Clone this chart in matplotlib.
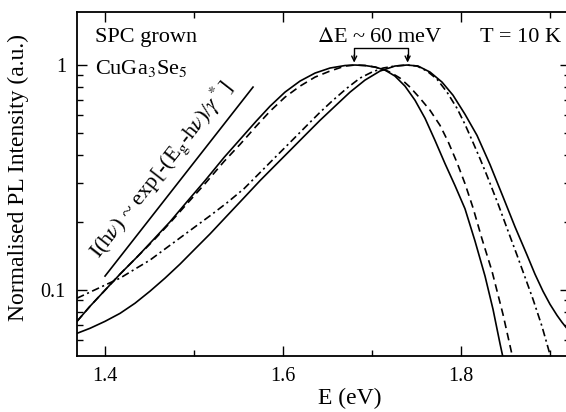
import matplotlib
matplotlib.use("Agg")
import matplotlib.pyplot as plt
from matplotlib.ticker import LogLocator, NullFormatter, MultipleLocator

plt.rcParams['font.family'] = ['Liberation Serif', 'DejaVu Serif']
plt.rcParams['mathtext.fontset'] = 'stix'
plt.rcParams['lines.scale_dashes'] = False

# PL spectra (energy in eV, normalised intensity)
e_solid1 = [1.3685, 1.3831, 1.4000, 1.4169, 1.4360, 1.4551, 1.4730, 1.4921, 1.5124,
            1.5337, 1.5517, 1.5697, 1.5854, 1.6022, 1.6191, 1.6360, 1.6528, 1.6697,
            1.6809, 1.6921, 1.7034, 1.7146, 1.7258, 1.7371, 1.7483, 1.7596, 1.7708,
            1.7820, 1.7933, 1.8045, 1.8157, 1.8270, 1.8360, 1.8438, 1.8472]
i_solid1 = [0.0727, 0.0848, 0.1000, 0.1179, 0.1404, 0.1689, 0.2012, 0.2471, 0.3066,
            0.3884, 0.4673, 0.5623, 0.6561, 0.7578, 0.8486, 0.9210, 0.9696, 0.9950,
            1.0000, 0.9950, 0.9796, 0.9499, 0.8931, 0.8058, 0.6978, 0.5799, 0.4625,
            0.3652, 0.2912, 0.2299, 0.1655, 0.1155, 0.0822, 0.0580, 0.0502]

e_dash = [1.3685, 1.3831, 1.4000, 1.4169, 1.4360, 1.4551, 1.4730, 1.4921, 1.5124,
          1.5337, 1.5517, 1.5697, 1.5854, 1.6022, 1.6191, 1.6360, 1.6528, 1.6697,
          1.6809, 1.6921, 1.7034, 1.7146, 1.7202, 1.7315, 1.7427, 1.7539, 1.7652,
          1.7764, 1.7854, 1.7955, 1.8045, 1.8135, 1.8236, 1.8348, 1.8472, 1.8573,
          1.8584]
i_dash = [0.0727, 0.0848, 0.1000, 0.1179, 0.1404, 0.1672, 0.1991, 0.2420, 0.2973,
          0.3728, 0.4440, 0.5340, 0.6232, 0.7197, 0.8058, 0.8839, 0.9402, 0.9898,
          1.0000, 0.9950, 0.9796, 0.9499, 0.9306, 0.8748, 0.7978, 0.7124, 0.6295,
          0.5398, 0.4579, 0.3690, 0.2973, 0.2323, 0.1689, 0.1216, 0.0781, 0.0518,
          0.0502]

e_dashdot = [1.3685, 1.3831, 1.4000, 1.4169, 1.4337, 1.4506, 1.4674, 1.4843, 1.5011,
             1.5180, 1.5371, 1.5562, 1.5742, 1.5910, 1.6079, 1.6247, 1.6416, 1.6562,
             1.6719, 1.6865, 1.7000, 1.7124, 1.7258, 1.7393, 1.7506, 1.7618, 1.7730,
             1.7843, 1.7955, 1.8045, 1.8135, 1.8213, 1.8292, 1.8416, 1.8528, 1.8629,
             1.8719, 1.8809, 1.8910, 1.9000, 1.9011]
i_dashdot = [0.0921, 0.0980, 0.1053, 0.1131, 0.1241, 0.1361, 0.1524, 0.1707, 0.1911,
             0.2140, 0.2445, 0.2824, 0.3329, 0.3884, 0.4530, 0.5286, 0.6167, 0.6978,
             0.7896, 0.8748, 0.9306, 0.9696, 0.9898, 1.0000, 0.9898, 0.9402, 0.8660,
             0.7578, 0.6427, 0.5451, 0.4530, 0.3844, 0.3228, 0.2420, 0.1834, 0.1433,
             0.1143, 0.0912, 0.0691, 0.0518, 0.0502]

e_solid2 = [1.3685, 1.3831, 1.4000, 1.4169, 1.4337, 1.4506, 1.4674, 1.4843, 1.5011,
            1.5180, 1.5371, 1.5562, 1.5742, 1.5910, 1.6079, 1.6247, 1.6416, 1.6584,
            1.6753, 1.6921, 1.7090, 1.7258, 1.7393, 1.7517, 1.7652, 1.7787, 1.7910,
            1.8045, 1.8180, 1.8326, 1.8472, 1.8607, 1.8742, 1.8831, 1.8921, 1.9000,
            1.9079, 1.9135, 1.9180]
i_solid2 = [0.0643, 0.0677, 0.0727, 0.0789, 0.0875, 0.0990, 0.1131, 0.1306, 0.1524,
            0.1778, 0.2140, 0.2574, 0.3066, 0.3577, 0.4174, 0.4870, 0.5681, 0.6561,
            0.7578, 0.8570, 0.9402, 0.9898, 1.0000, 0.9898, 0.9306, 0.8396, 0.7346,
            0.6043, 0.4870, 0.3614, 0.2600, 0.1911, 0.1433, 0.1179, 0.0990, 0.0866,
            0.0773, 0.0720, 0.0684]

# exponential tail guide line
e_fit = [1.40, 1.5663]
i_fit = [0.1155, 0.798]

# peak positions marked by the bracket
e_peaks = [1.680, 1.740]
bracket_top = 1.19
arrow_tip = 1.025

fig = plt.figure(figsize=(5.66, 4.12), dpi=100)
ax = fig.add_axes([77 / 566, 56 / 412, 493 / 566, 344 / 412])

lw = 1.2
ax.plot(e_solid1, i_solid1, color='black', lw=lw)
ax.plot(e_dash, i_dash, color='black', lw=lw, dashes=(5.5, 3.5))
ax.plot(e_dashdot, i_dashdot, color='black', lw=lw, dashes=(5.5, 2.5, 1.5, 2.5))
ax.plot(e_solid2, i_solid2, color='black', lw=lw)
ax.plot(e_fit, i_fit, color='black', lw=lw)

# bracket with arrows pointing at both maxima
ax.plot([e_peaks[0], e_peaks[0], e_peaks[1], e_peaks[1]],
        [arrow_tip * 1.06, bracket_top, bracket_top, arrow_tip * 1.06],
        color='black', lw=1.0)
for ep in e_peaks:
    ax.annotate('', xy=(ep, arrow_tip), xytext=(ep, arrow_tip * 1.08),
                arrowprops=dict(arrowstyle='->', lw=1.0, color='black',
                                mutation_scale=9, shrinkA=0, shrinkB=0))

ax.set_yscale('log')
ax.set_xlim(1.3685, 1.9225)
ax.set_ylim(0.051, 1.72)

ax.xaxis.set_minor_locator(MultipleLocator(0.1))
ax.set_xticks([1.4, 1.6, 1.8])
ax.set_xticklabels(['1.4', '1.6', '1.8'])
ax.set_yticks([0.1, 1])
ax.set_yticklabels(['0.1', '1'])
ax.yaxis.set_minor_locator(LogLocator(base=10, subs=range(2, 10)))
ax.yaxis.set_minor_formatter(NullFormatter())

ax.tick_params(which='both', direction='in', top=True, right=True, width=1.0)
ax.tick_params(which='major', length=7, labelsize=14.5, pad=8)
ax.tick_params(which='minor', length=4.5)
for sp in ax.spines.values():
    sp.set_linewidth(1.3)

ax.set_xlabel('E (eV)', fontsize=17)
ax.set_ylabel('Normalised PL Intensity (a.u.)', fontsize=17)
ax.xaxis.set_label_coords(0.554, -0.093)
ax.yaxis.set_label_coords(-0.097, 0.52)

ax.text(0.0365, 0.913, 'SPC grown', transform=ax.transAxes, fontsize=16,
        va='baseline', ha='left')
ax.text(0.0365, 0.82, 'CuGa$_3$Se$_5$', transform=ax.transAxes, fontsize=16,
        va='baseline', ha='left')
ax.text(0.615, 0.913, r'$\Delta$E ~ 60 meV', transform=ax.transAxes, fontsize=16,
        va='baseline', ha='center')
ax.text(0.817, 0.913, 'T = 10 K', transform=ax.transAxes, fontsize=16,
        va='baseline', ha='left')
ax.text(0.170, 0.541, r'I(h$\nu$) ~ exp[-(E$_\mathrm{g}$-h$\nu$)/$\gamma^*$]',
        transform=ax.transAxes, fontsize=16, rotation=52,
        rotation_mode='anchor', ha='center', va='center')

fig.savefig('out.png', dpi=100)
